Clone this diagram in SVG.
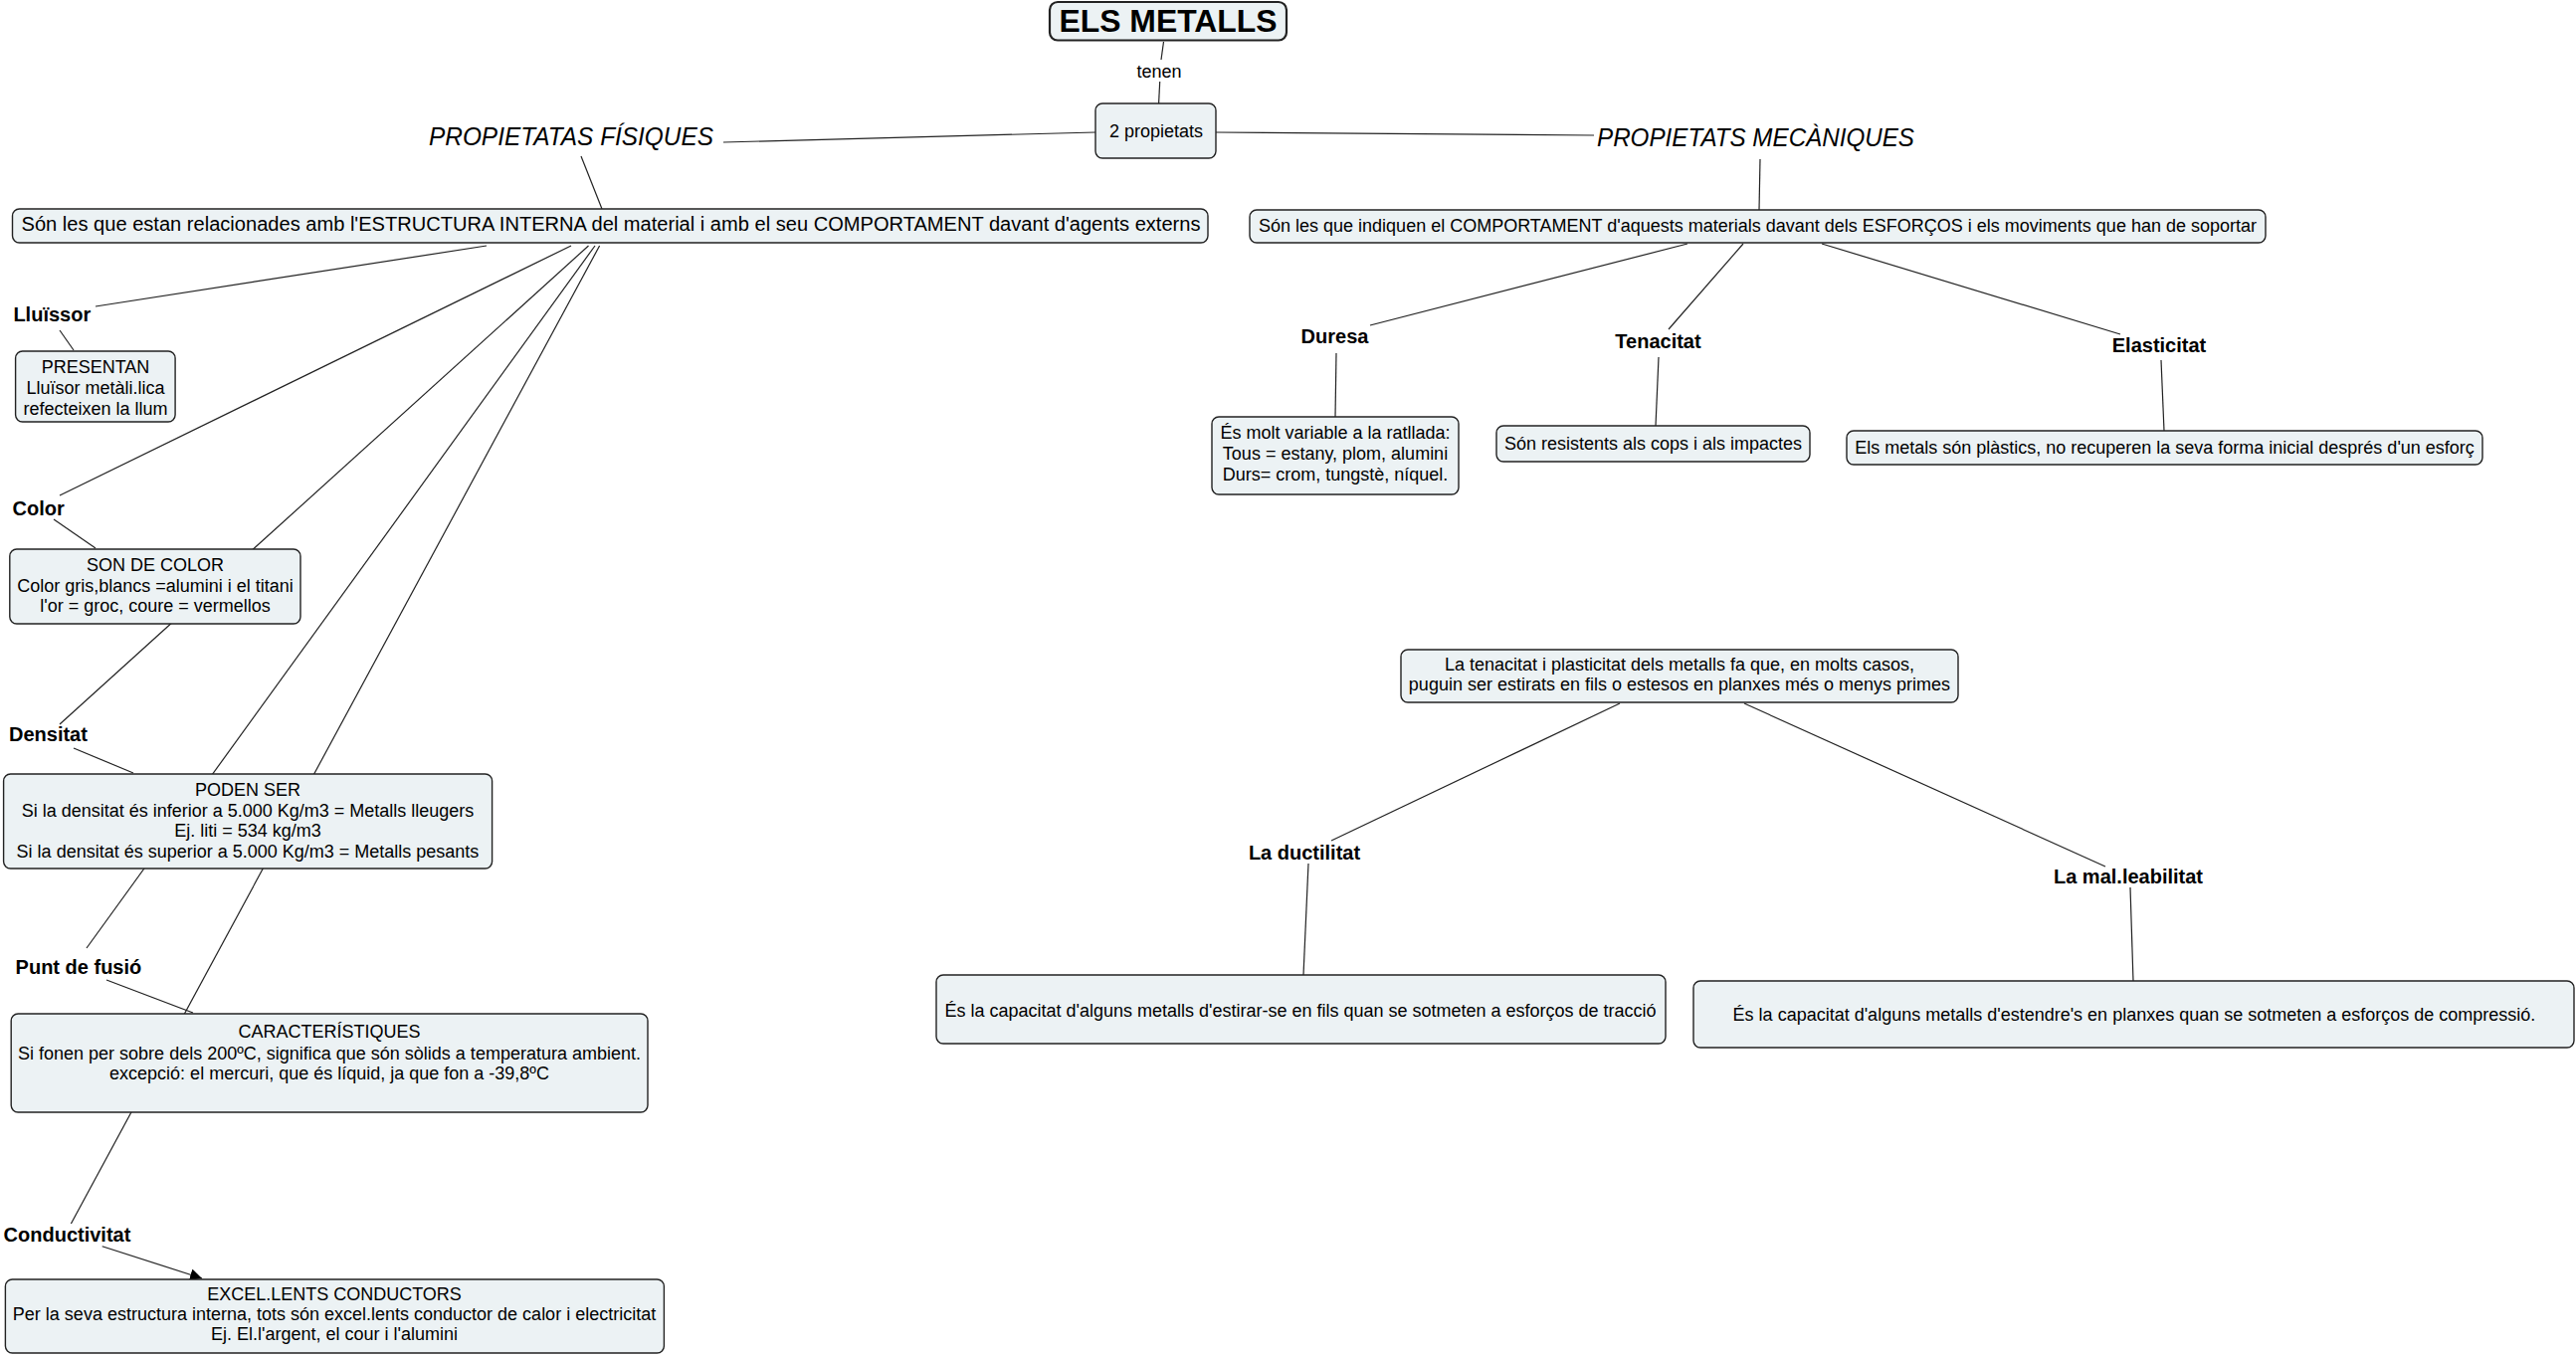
<svg xmlns="http://www.w3.org/2000/svg" width="2589" height="1362" viewBox="0 0 2589 1362">
<defs>
<style>
.box{fill:#ECF2F4;stroke:#222;stroke-width:1.4}
.main{fill:#ECF2F4;stroke:#222;stroke-width:2.2}
.t{font-family:"Liberation Sans",Arial,sans-serif;font-size:18px;fill:#000;text-anchor:middle}
.t20{font-family:"Liberation Sans",Arial,sans-serif;font-size:20px;fill:#000}
.lbl{font-family:"Liberation Sans",Arial,sans-serif;font-size:20px;font-weight:bold;fill:#000}
.it{font-family:"Liberation Sans",Arial,sans-serif;font-size:25px;font-style:italic;fill:#000}
.c line{stroke:#222;stroke-width:1.2;fill:none}
</style>
<marker id="arr" viewBox="0 0 10 10" refX="10" refY="5" markerWidth="12" markerHeight="12" markerUnits="userSpaceOnUse" orient="auto">
<path d="M0,0 L10,5 L0,10 z" fill="#000"/>
</marker>
</defs>
<rect width="2589" height="1362" fill="#fff"/>
<g class="c" id="connectors">
<line x1="1169.5" y1="42" x2="1167" y2="60"/>
<line x1="1165.7" y1="82" x2="1164.6" y2="104"/>
<line x1="1101" y1="133" x2="727" y2="143"/>
<line x1="1222" y1="133" x2="1602" y2="136"/>
<line x1="584" y1="157" x2="605" y2="210"/>
<line x1="1769" y1="160" x2="1768" y2="211"/>
<line x1="489" y1="247" x2="96" y2="308"/>
<line x1="574" y1="247" x2="60" y2="498"/>
<line x1="591.5" y1="247" x2="60" y2="728"/>
<line x1="598" y1="247" x2="87" y2="953"/>
<line x1="602.6" y1="247" x2="71.4" y2="1230"/>
<line x1="60" y1="332" x2="74" y2="352"/>
<line x1="54" y1="522" x2="96" y2="551"/>
<line x1="74" y1="752" x2="134" y2="777"/>
<line x1="107" y1="985" x2="194" y2="1018"/>
<line x1="102.7" y1="1252.7" x2="203" y2="1285" marker-end="url(#arr)"/>
<line x1="1696" y1="245" x2="1377" y2="327"/>
<line x1="1752" y1="245" x2="1677" y2="331"/>
<line x1="1831" y1="245" x2="2131" y2="336"/>
<line x1="1343" y1="355" x2="1342" y2="419"/>
<line x1="1667" y1="359" x2="1664" y2="428"/>
<line x1="2172" y1="362" x2="2175" y2="433"/>
<line x1="1628" y1="707" x2="1338" y2="845"/>
<line x1="1753" y1="707" x2="2116" y2="871"/>
<line x1="1315" y1="868" x2="1310" y2="980"/>
<line x1="2141" y1="892" x2="2144" y2="986"/>
</g>
<g id="n-metalls"><rect class="main" x="1055" y="2" width="238" height="38.5" rx="8"/><text class="lbl" x="1174" y="32" text-anchor="middle" style="font-size:31px" textLength="219" lengthAdjust="spacingAndGlyphs">ELS METALLS</text></g>
<g id="n-tenen"><text class="t" x="1165" y="78">tenen</text></g>
<g id="n-2prop"><rect class="box" x="1101" y="104" width="121" height="55" rx="7"/><text class="t" x="1162" y="138">2 propietats</text></g>
<g id="n-propfis"><text class="it" x="431" y="146" textLength="286" lengthAdjust="spacingAndGlyphs">PROPIETATAS FÍSIQUES</text></g>
<g id="n-propmec"><text class="it" x="1605" y="147" textLength="319" lengthAdjust="spacingAndGlyphs">PROPIETATS MECÀNIQUES</text></g>
<g id="n-fisica"><rect class="box" x="12.5" y="210" width="1201.5" height="34" rx="7"/><text class="t20" x="21.5" y="232" textLength="1185" lengthAdjust="spacingAndGlyphs">Són les que estan relacionades amb l'ESTRUCTURA INTERNA del material i amb el seu COMPORTAMENT davant d'agents externs</text></g>
<g id="n-mec"><rect class="box" x="1256" y="211" width="1021" height="33" rx="7"/><text class="t" x="1766.5" y="233" textLength="1003" lengthAdjust="spacingAndGlyphs">Són les que indiquen el COMPORTAMENT d'aquests materials davant dels ESFORÇOS i els moviments que han de soportar</text></g>
<g id="n-lluissor"><text class="lbl" x="13.4" y="323">Lluïssor</text></g>
<g id="n-presentan"><rect class="box" x="15.6" y="353" width="160.5" height="71" rx="7"/><text class="t" x="96" y="375">PRESENTAN</text><text class="t" x="96" y="396">Lluïsor metàli.lica</text><text class="t" x="96" y="417">refecteixen la llum</text></g>
<g id="n-color"><text class="lbl" x="12.5" y="518">Color</text></g>
<g id="n-soncolor"><rect class="box" x="9.8" y="552" width="292.2" height="75" rx="7"/><text class="t" x="156" y="574">SON DE COLOR</text><text class="t" x="156" y="595">Color gris,blancs =alumini i el titani</text><text class="t" x="156" y="615">l'or = groc, coure = vermellos</text></g>
<g id="n-densitat"><text class="lbl" x="9" y="745">Densitat</text></g>
<g id="n-poden"><rect class="box" x="3.6" y="778" width="491" height="95" rx="7"/><text class="t" x="249" y="800">PODEN SER</text><text class="t" x="249" y="821">Si la densitat és inferior a 5.000 Kg/m3 = Metalls lleugers</text><text class="t" x="249" y="841">Ej. liti = 534 kg/m3</text><text class="t" x="249" y="862">Si la densitat és superior a 5.000 Kg/m3 = Metalls pesants</text></g>
<g id="n-fusio"><text class="lbl" x="15.6" y="979">Punt de fusió</text></g>
<g id="n-caract"><rect class="box" x="11.2" y="1019" width="639.8" height="99" rx="7"/><text class="t" x="331" y="1043">CARACTERÍSTIQUES</text><text class="t" x="331" y="1065">Si fonen per sobre dels 200ºC, significa que són sòlids a temperatura ambient.</text><text class="t" x="331" y="1085">excepció: el mercuri, que és líquid, ja que fon a -39,8ºC</text></g>
<g id="n-conduct"><text class="lbl" x="3.6" y="1248">Conductivitat</text></g>
<g id="n-excel"><rect class="box" x="5.4" y="1286" width="662" height="74" rx="7"/><text class="t" x="336" y="1307">EXCEL.LENTS CONDUCTORS</text><text class="t" x="336" y="1327">Per la seva estructura interna, tots són excel.lents conductor de calor i electricitat</text><text class="t" x="336" y="1347">Ej. El.l'argent, el cour i l'alumini</text></g>
<g id="n-duresa"><text class="lbl" x="1341.5" y="345" text-anchor="middle">Duresa</text></g>
<g id="n-tenacitat"><text class="lbl" x="1666.5" y="350" text-anchor="middle">Tenacitat</text></g>
<g id="n-elasticitat"><text class="lbl" x="2170" y="354" text-anchor="middle">Elasticitat</text></g>
<g id="n-duresa-box"><rect class="box" x="1218" y="419" width="248" height="78" rx="7"/><text class="t" x="1342" y="441">És molt variable a la ratllada:</text><text class="t" x="1342" y="462">Tous = estany, plom, alumini</text><text class="t" x="1342" y="483">Durs= crom, tungstè, níquel.</text></g>
<g id="n-tenacitat-box"><rect class="box" x="1504" y="428" width="315" height="36" rx="7"/><text class="t" x="1661.5" y="452">Són resistents als cops i als impactes</text></g>
<g id="n-elasticitat-box"><rect class="box" x="1856" y="433" width="639" height="34" rx="7"/><text class="t" x="2175.5" y="456">Els metals són plàstics, no recuperen la seva forma inicial després d'un esforç</text></g>
<g id="n-plasticitat"><rect class="box" x="1408" y="653" width="560" height="53" rx="7"/><text class="t" x="1688" y="674">La tenacitat i plasticitat dels metalls fa que, en molts casos,</text><text class="t" x="1688" y="694">puguin ser estirats en fils o estesos en planxes més o menys primes</text></g>
<g id="n-ductilitat"><text class="lbl" x="1311" y="864" text-anchor="middle">La ductilitat</text></g>
<g id="n-ductilitat-box"><rect class="box" x="941" y="980" width="733" height="69" rx="7"/><text class="t" x="1307" y="1022">És la capacitat d'alguns metalls d'estirar-se en fils quan se sotmeten a esforços de tracció</text></g>
<g id="n-mal"><text class="lbl" x="2139" y="888" text-anchor="middle">La mal.leabilitat</text></g>
<g id="n-mal-box"><rect class="box" x="1702" y="986" width="885" height="67" rx="7"/><text class="t" x="2145" y="1026">És la capacitat d'alguns metalls d'estendre's en planxes quan se sotmeten a esforços de compressió.</text></g>
</svg>
